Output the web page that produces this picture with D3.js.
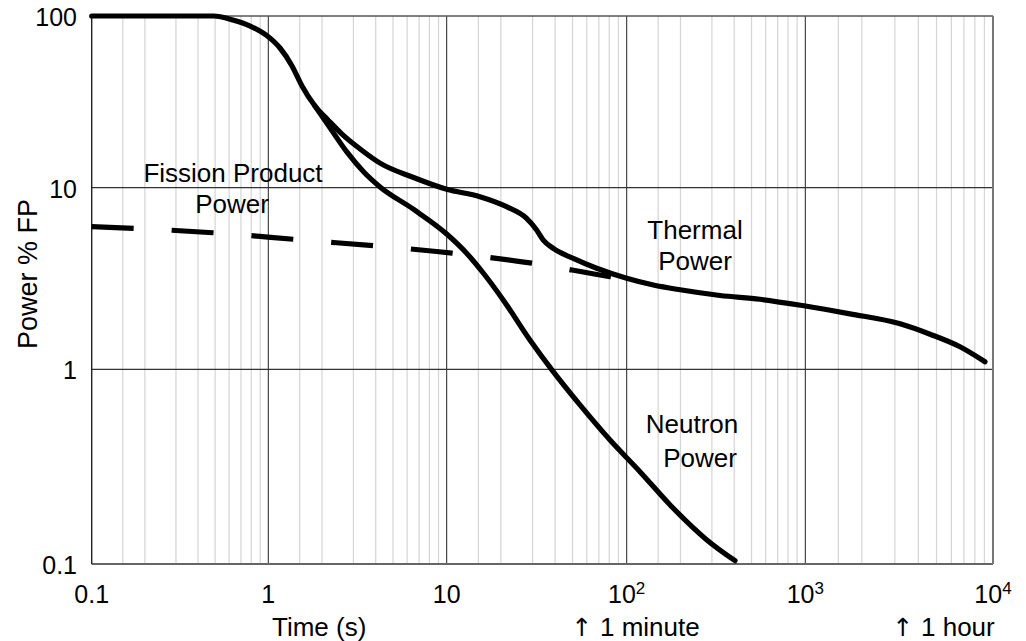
<!DOCTYPE html>
<html><head><meta charset="utf-8">
<script src="https://cdn.jsdelivr.net/npm/d3@7"></script>
<style>
body{margin:0;background:#fff}
svg{display:block}
text{font-family:"Liberation Sans",Arial,Helvetica,sans-serif;fill:#000}
</style>
</head><body>
<svg id="c" width="1026" height="641"></svg>
<script>
// ---- data (time in s, power in % FP) ----
const thermalTime  = [0.1,0.21,0.49,0.63,0.79,0.98,1.163,1.358,1.545,1.827,2.161,2.589,3.27,4.23,6.47,10,15.3,21.5,27.8,31.6,34.4,39.1,50.5,68.1,100,141,199,333,557,1000,1730,3200,4620,6670,9060];
const thermalPower = [100,100,100,94.8,87.4,77.0,65.1,51.2,39.1,29.9,24.8,20.5,16.8,13.9,11.5,9.8,8.92,7.86,6.78,5.85,5.15,4.63,4.08,3.60,3.17,2.91,2.74,2.55,2.43,2.23,2.02,1.78,1.56,1.33,1.10];
const neutronTime  = [1.827,2.218,2.762,3.44,4.23,6.47,10,12.9,16.0,20.6,29.0,38.5,55.0,80.8,119,175,281,404];
const neutronPower = [29.9,22.3,16.1,12.3,10.1,7.64,5.56,4.36,3.38,2.41,1.45,0.99,0.656,0.433,0.297,0.201,0.133,0.104];
const fissionTime  = [0.1,0.486,1.38,10.7,29.7,80.8,100];
const fissionPower = [6.10,5.65,5.20,4.36,3.84,3.24,3.14];

const xMajorTicks = [0.1,1,10,100,1000,10000];
const xTickBase   = ["0.1","1","10","10","10","10"];
const xTickSup    = ["","","","2","3","4"];
const yMajorTicks = [0.1,1,10,100];
const yTickLabels = ["0.1","1","10","100"];
const minorMultipliers = [1.5,2,3,4,5,6,7,8,9];

// ---- scales (decades in the reference are not evenly spaced) ----
const x = d3.scaleLog().domain(xMajorTicks).range([91.7,268.3,446.7,626.7,805.3,993]);
const y = d3.scaleLog().domain(yMajorTicks).range([564,369.3,187.7,16]);

const svg = d3.select("#c");
const L = x(0.1), R = x(10000), T = y(100), B = y(0.1);

// minor vertical grid
const minor = [];
xMajorTicks.slice(0,-1).forEach(d => minorMultipliers.forEach(m => minor.push(d*m)));
svg.append("g").selectAll("line").data(minor).join("line")
  .attr("x1", d => x(d)).attr("x2", d => x(d)).attr("y1", T).attr("y2", B)
  .attr("stroke", "#d4d4d4").attr("stroke-width", 1.2);

// major vertical grid
svg.append("g").selectAll("line").data(xMajorTicks.slice(1,-1)).join("line")
  .attr("x1", d => x(d)).attr("x2", d => x(d)).attr("y1", T).attr("y2", B)
  .attr("stroke", "#222").attr("stroke-width", 1);
// major horizontal grid
svg.append("g").selectAll("line").data(yMajorTicks.slice(1,-1)).join("line")
  .attr("x1", L).attr("x2", R).attr("y1", d => y(d)).attr("y2", d => y(d))
  .attr("stroke", "#333").attr("stroke-width", 1.2);

// frame
svg.append("line").attr("x1",L).attr("x2",R).attr("y1",T).attr("y2",T).attr("stroke","#555").attr("stroke-width",1.6);
svg.append("line").attr("x1",L).attr("x2",R).attr("y1",B).attr("y2",B).attr("stroke","#666").attr("stroke-width",1.8);
svg.append("line").attr("x1",L).attr("x2",L).attr("y1",T).attr("y2",B).attr("stroke","#222").attr("stroke-width",1.4);
svg.append("line").attr("x1",R).attr("x2",R).attr("y1",T).attr("y2",B).attr("stroke","#777").attr("stroke-width",2);

// curves
const line = d3.line().x(d => x(d[0])).y(d => y(d[1])).curve(d3.curveMonotoneX);
const zip = (a,b) => a.map((v,i) => [v,b[i]]);
svg.append("path").attr("d", line(zip(fissionTime, fissionPower)))
  .attr("fill","none").attr("stroke","#000").attr("stroke-width",5.2)
  .attr("stroke-dasharray","42,38");
svg.append("path").attr("d", line(zip(thermalTime, thermalPower)))
  .attr("fill","none").attr("stroke","#000").attr("stroke-width",5.2).attr("stroke-linecap","round").attr("stroke-linejoin","round");
svg.append("path").attr("d", line(zip(neutronTime, neutronPower)))
  .attr("fill","none").attr("stroke","#000").attr("stroke-width",5.2).attr("stroke-linecap","round").attr("stroke-linejoin","round");

// y tick labels
svg.append("g").selectAll("text").data(yMajorTicks).join("text")
  .attr("x", 77).attr("y", d => y(d) + 10).attr("text-anchor","end")
  .attr("font-size", 25).text((d,i) => yTickLabels[i]);

// x tick labels
const xt = svg.append("g").selectAll("text").data(xMajorTicks).join("text")
  .attr("x", d => x(d)).attr("y", 603).attr("text-anchor","middle").attr("font-size",25);
xt.append("tspan").text((d,i) => xTickBase[i]);
xt.append("tspan").attr("font-size",17).attr("dy",-9).text((d,i) => xTickSup[i]);

// axis titles
svg.append("text").attr("x", 272).attr("y", 636).attr("font-size",26).text("Time (s)");
svg.append("text").attr("x", 582).attr("y", 636).attr("text-anchor","middle")
  .style("font-family","'DejaVu Sans'").attr("font-size",25).text("\u2191");
svg.append("text").attr("x", 600).attr("y", 636).attr("font-size",26).text("1 minute");
svg.append("text").attr("x", 903).attr("y", 636).attr("text-anchor","middle")
  .style("font-family","'DejaVu Sans'").attr("font-size",25).text("\u2191");
svg.append("text").attr("x", 921).attr("y", 636).attr("font-size",26).text("1 hour");
svg.append("text").attr("transform","translate(37,274) rotate(-90)").attr("text-anchor","middle")
  .attr("font-size",27).text("Power % FP");

// curve annotations
const ann = [
  ["Fission Product", 233, 182], ["Power", 232, 213],
  ["Thermal", 695, 239], ["Power", 695, 270],
  ["Neutron", 692, 433], ["Power", 700, 467]
];
svg.append("g").selectAll("text").data(ann).join("text")
  .attr("x", d => d[1]).attr("y", d => d[2]).attr("text-anchor","middle")
  .attr("font-size",26).text(d => d[0]);
</script>
</body></html>
